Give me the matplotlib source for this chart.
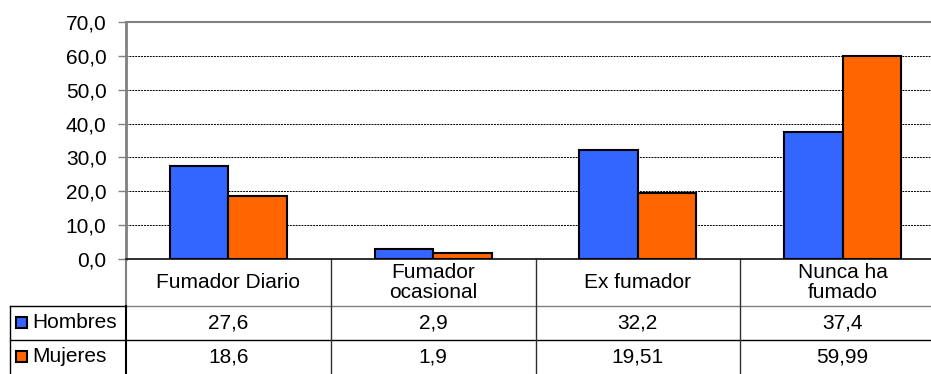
import numpy as np
import matplotlib.pyplot as plt
from matplotlib.transforms import blended_transform_factory
from matplotlib.patches import Rectangle
from matplotlib.ticker import FuncFormatter

plt.rcParams['font.family'] = ['Liberation Sans', 'DejaVu Sans']

categorias = ['Fumador Diario', 'Fumador\nocasional', 'Ex fumador', 'Nunca ha\nfumado']
hombres = [27.6, 2.9, 32.2, 37.4]
mujeres = [18.6, 1.9, 19.51, 59.99]
series = ['Hombres', 'Mujeres']
colores = ['#3366FF', '#FF6600']

W, H = 931, 374
FS = 15
fig = plt.figure(figsize=(W / 100, H / 100), dpi=100)
# plot area in pixels: left 126, right ~945 (cropped), top 22, bottom 259
ax = fig.add_axes([126 / W, (H - 259) / H, (945 - 126) / W, (259 - 22) / H])

x = np.arange(len(categorias))
bw = 0.286
for i, (vals, col) in enumerate(zip([hombres, mujeres], colores)):
    ax.bar(x + (i - 0.5) * bw, vals, bw, color=col, edgecolor='black', linewidth=1.5, zorder=3)

ax.set_xlim(-0.5, len(categorias) - 0.5)
ax.set_ylim(0, 70)
ax.set_yticks(np.arange(0, 71, 10))
ax.yaxis.set_major_formatter(FuncFormatter(lambda v, p: f'{v:.1f}'.replace('.', ',')))
ax.tick_params(axis='y', labelsize=FS, length=6, width=1, color='#808080', pad=8)
ax.set_xticks([])
for yv in range(10, 70, 10):
    ax.axhline(yv, color='black', linestyle=(0, (2, 1)), linewidth=0.7, zorder=1)
ax.spines['left'].set_color('#808080')
ax.spines['left'].set_linewidth(2)
ax.spines['top'].set_color('#808080')
ax.spines['top'].set_linewidth(1.5)
ax.spines['right'].set_visible(False)
ax.spines['bottom'].set_color('#202020')
ax.spines['bottom'].set_linewidth(1.3)

# data table below the axes
tr = blended_transform_factory(ax.transData, ax.transAxes)
ph = 259 - 22
y_head = -47 / ph
y_r1 = -81 / ph
y_r2 = -115 / ph
x_lab = -0.5 - 116 / 204.7
xr = len(categorias) - 0.5

def hline(y, x0, x1, c='black', lw=1):
    ax.plot([x0, x1], [y, y], transform=tr, color=c, lw=lw, clip_on=False)

def vline(xv, y0, y1, c='black', lw=1):
    ax.plot([xv, xv], [y0, y1], transform=tr, color=c, lw=lw, clip_on=False)

hline(y_head, x_lab, -0.5, 'black')
hline(y_head, -0.5, xr, '#808080')
hline(y_r1, x_lab, xr, 'black')
vline(-0.5, 0, y_head, '#808080', 1.5)
vline(-0.5, y_head, y_r2, 'black', 1.5)
vline(x_lab, y_head, y_r2, 'black', 1)
for k in range(1, len(categorias)):
    vline(k - 0.5, 0, y_r2, '#303030', 1)

for k, cat in enumerate(categorias):
    ax.text(k, y_head / 2, cat, transform=tr, ha='center', va='center', fontsize=FS,
            linespacing=1.1)

for vals, lab, col, y0, y1 in zip([hombres, mujeres], series, colores, [y_head, y_r1], [y_r1, y_r2]):
    ym = (y0 + y1) / 2
    for k, v in enumerate(vals):
        ax.text(k, ym, str(v).replace('.', ','), transform=tr, ha='center', va='center', fontsize=FS)
    # legend key
    fig_y = ax.transAxes.transform((0, ym))[1] / H
    sq = Rectangle((16 / W, fig_y - 5 / H), 11 / W, 11 / H, facecolor=col, edgecolor='black',
                   linewidth=1.5, transform=fig.transFigure)
    fig.patches.append(sq)
    fig.text(32 / W, fig_y, lab, ha='left', va='center', fontsize=FS)

fig.savefig('out.png', dpi=100)
